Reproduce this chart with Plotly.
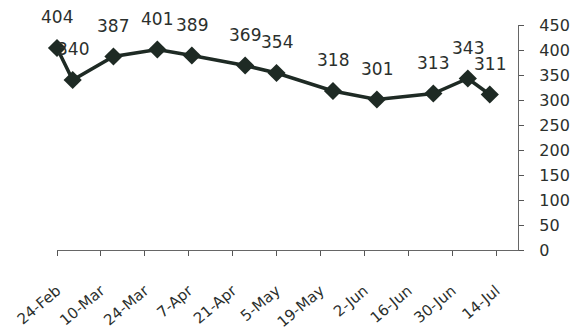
import plotly.graph_objects as go

dates = ["2003-02-24", "2003-03-01", "2003-03-14", "2003-03-28", "2003-04-08",
         "2003-04-25", "2003-05-05", "2003-05-23", "2003-06-06", "2003-06-24",
         "2003-07-05", "2003-07-12"]
values = [404, 340, 387, 401, 389, 369, 354, 318, 301, 313, 343, 311]

tick_dates = ["2003-02-24", "2003-03-10", "2003-03-24", "2003-04-07", "2003-04-21",
              "2003-05-05", "2003-05-19", "2003-06-02", "2003-06-16", "2003-06-30",
              "2003-07-14"]
tick_labels = ["24-Feb", "10-Mar", "24-Mar", "7-Apr", "21-Apr", "5-May", "19-May",
               "2-Jun", "16-Jun", "30-Jun", "14-Jul"]
y_ticks = [0, 50, 100, 150, 200, 250, 300, 350, 400, 450]

ink = "#1e2a24"
txt = "#2b302d"
font_family = "DejaVu Sans"

fig = go.Figure()
fig.add_trace(go.Scatter(
    x=dates, y=values, mode="lines",
    line=dict(color=ink, width=3.5),
    hoverinfo="skip", showlegend=False, cliponaxis=False,
))

annotations = []
for d, v in zip(dates, values):
    annotations.append(dict(
        x=d, y=v, xref="x", yref="y", text=str(v), showarrow=False,
        yshift=31, font=dict(family=font_family, size=17, color=txt),
    ))

fig.add_trace(go.Scatter(
    x=dates, y=values, mode="markers",
    marker=dict(symbol="diamond", size=14, color=ink),
    hoverinfo="skip", showlegend=False, cliponaxis=False,
))

fig.update_layout(
    width=577, height=334,
    margin=dict(l=57, r=59, t=25, b=84),
    paper_bgcolor="white", plot_bgcolor="white",
    annotations=annotations,
    font=dict(family=font_family, color=txt),
)
fig.update_xaxes(
    type="date", range=["2003-02-24", "2003-07-21"],
    tickmode="array", tickvals=tick_dates, ticktext=tick_labels,
    tickangle=-40, ticks="outside", ticklen=5, tickcolor="#555",
    showline=True, linecolor="#666", linewidth=1.2,
    showgrid=False, zeroline=False, automargin=False,
    tickfont=dict(family=font_family, size=15, color=txt),
    ticklabelstandoff=20,
)
fig.update_yaxes(
    range=[0, 450], side="right",
    tickmode="array", tickvals=y_ticks,
    ticks="outside", ticklen=5, tickcolor="#555",
    showline=True, linecolor="#666", linewidth=1.2,
    showgrid=False, zeroline=False, automargin=False,
    tickfont=dict(family=font_family, size=16, color=txt),
    ticklabelstandoff=12,
)

fig.write_html("out.html")
